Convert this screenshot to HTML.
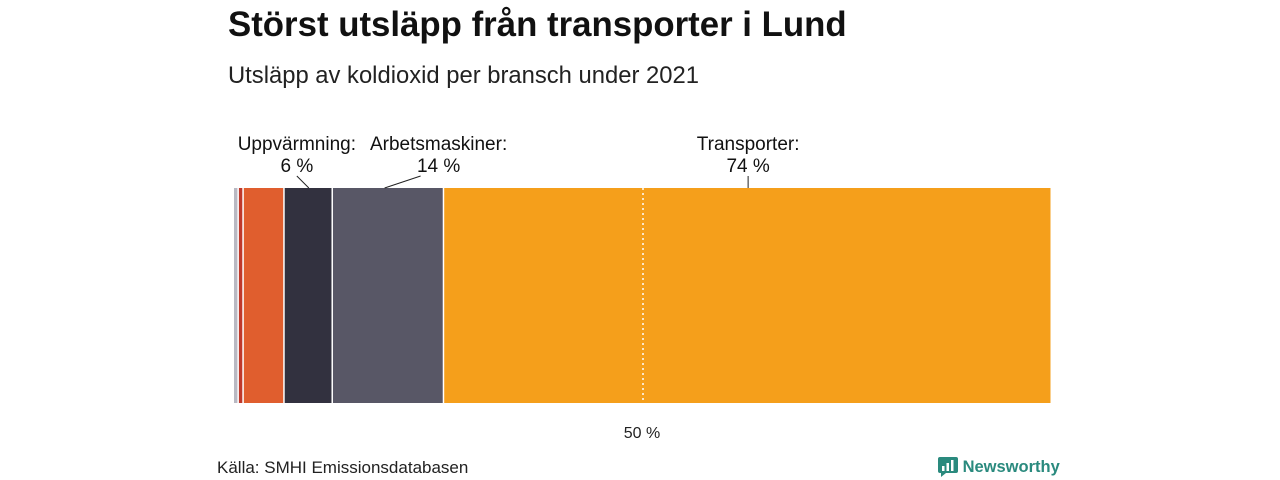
<!DOCTYPE html>
<html><head><meta charset="utf-8"><style>
body{margin:0;width:1280px;height:480px;background:#fff;font-family:"Liberation Sans",sans-serif;position:relative;overflow:hidden}
.t{position:absolute;white-space:nowrap}
</style></head><body>
<div class="t" style="left:228px;top:5px;font-size:34.8px;font-weight:bold;color:#111">Störst utsläpp från transporter i Lund</div>
<div class="t" style="left:228px;top:62px;font-size:23.8px;color:#222">Utsläpp av koldioxid per bransch under 2021</div>
<svg id="c" width="1280" height="480" style="position:absolute;left:0;top:0"></svg>
<div class="t" style="left:217px;top:458px;font-size:17px;color:#222">Källa: SMHI Emissionsdatabasen</div>
<div class="t" style="left:938px;top:455px;font-size:16.5px;font-weight:bold;color:#2a8a7e">
<svg width="20" height="22" style="vertical-align:-5px"><rect x="0" y="2" width="20" height="16" rx="2" fill="#2a8a7e"/><polygon points="3,18 8,18 3,22" fill="#2a8a7e"/><rect x="4" y="11" width="2.5" height="5" fill="#fff"/><rect x="8.5" y="8" width="2.5" height="8" fill="#fff"/><rect x="13" y="5" width="2.5" height="11" fill="#fff"/></svg> Newsworthy</div>
<script>
const categories=["Övrigt","Industri","Jordbruk","Uppvärmning","Arbetsmaskiner","Transporter"];
const values=[0.6,0.6,5.0,5.9,13.6,74.3];
const colors=["#b9b9c3","#c0392b","#e05e2e","#32313f","#585766","#f59f1b"];
const labels=[null,null,null,"6 %","14 %","74 %"];
const ticks=[50];
const tickLabels=["50 %"];
const ns="http://www.w3.org/2000/svg",svg=document.getElementById('c');
const X0=234,X1=1052,Y0=188,Y1=403;
const x=v=>X0+(X1-X0)*v/100;
function mk(t,a){const e=document.createElementNS(ns,t);for(const k in a)e.setAttribute(k,a[k]);svg.appendChild(e);return e;}
let cum=0;const total=values.reduce((a,b)=>a+b,0);
const labelOff={3:-12,4:50,5:0};
values.forEach((v,i)=>{
  const a=x(cum/total*100),b=x((cum+v)/total*100);cum+=v;
  const r=mk('rect',{x:a,y:Y0,width:Math.max(b-a-1.5,1),height:Y1-Y0,fill:colors[i]});
  
  
  if(labels[i]){
    const m=(a+b)/2,lx=m+labelOff[i];
    const lineTop=i==4?lx-18:lx;
    const ln=mk('line',{x1:m+(i==4?-4:0),y1:Y0,x2:lineTop,y2:Y0-12,stroke:'#222','stroke-width':1});
    
    
    const t1=mk('text',{x:lx,y:150,'text-anchor':'middle','font-size':19,fill:'#111'});
    t1.textContent=categories[i]+':';
    
    
    const t2=mk('text',{x:lx,y:172,'text-anchor':'middle','font-size':19,fill:'#111'});
    t2.textContent=labels[i];
    
    
  }
});
ticks.forEach((t,i)=>{
  const l=mk('line',{x1:x(t),y1:Y0,x2:x(t),y2:Y1,stroke:'#fff','stroke-width':1.5,'stroke-dasharray':'2,3'});
  
  
  const tx=mk('text',{x:x(t)-1,y:438,'text-anchor':'middle','font-size':16,fill:'#222'});
  tx.textContent=tickLabels[i];
  
  
});
</script>
</body></html>
